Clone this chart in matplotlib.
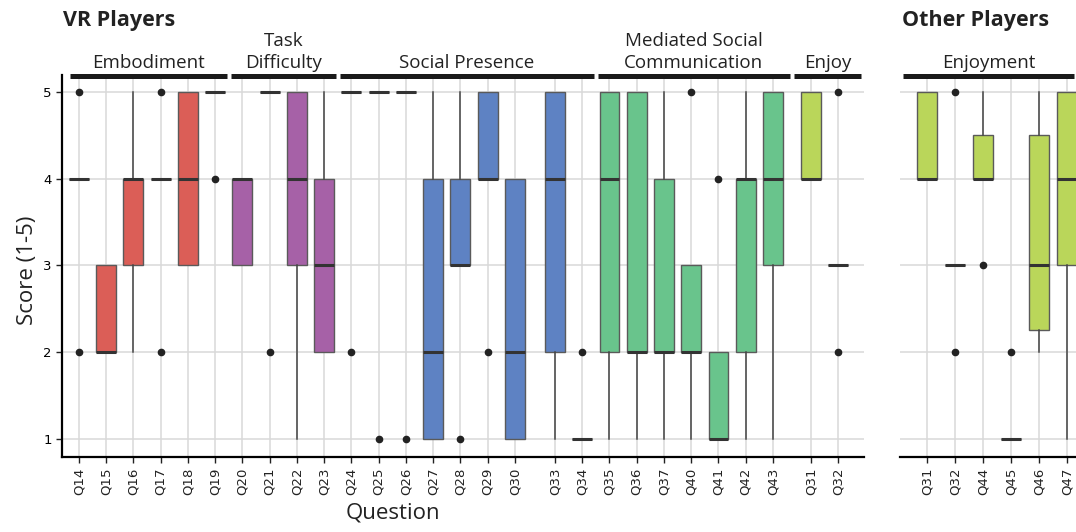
import matplotlib
matplotlib.use("Agg")
import matplotlib.pyplot as plt

# --- data: VR players ---
vr_questions = ["Q14", "Q15", "Q16", "Q17", "Q18", "Q19",
                "Q20", "Q21", "Q22", "Q23",
                "Q24", "Q25", "Q26", "Q27", "Q28", "Q29", "Q30", "Q33", "Q34",
                "Q35", "Q36", "Q37", "Q40", "Q41", "Q42", "Q43",
                "Q31", "Q32"]
vr_q1 = [4, 2, 3, 4, 3, 5, 3, 5, 3, 2, 5, 5, 5, 1, 3, 4, 1, 2, 1, 2, 2, 2, 2, 1, 2, 3, 4, 3]
vr_med = [4, 2, 4, 4, 4, 5, 4, 5, 4, 3, 5, 5, 5, 2, 3, 4, 2, 4, 1, 4, 2, 2, 2, 1, 4, 4, 4, 3]
vr_q3 = [4, 3, 4, 4, 5, 5, 4, 5, 5, 4, 5, 5, 5, 4, 4, 5, 4, 5, 1, 5, 5, 4, 3, 2, 4, 5, 5, 3]
vr_wlo = [4, 2, 2, 4, 3, 5, 3, 5, 1, 2, 5, 5, 5, 1, 3, 4, 1, 1, 1, 1, 1, 1, 1, 1, 1, 1, 4, 3]
vr_whi = [4, 3, 5, 4, 5, 5, 4, 5, 5, 5, 5, 5, 5, 5, 5, 5, 4, 5, 1, 5, 5, 5, 3, 2, 5, 5, 5, 3]
vr_fliers = [[5, 2], [], [], [5, 2], [], [4], [], [2], [], [],
             [2], [1], [1], [], [1], [2], [], [], [2],
             [], [], [], [5], [4], [], [],
             [], [5, 2]]
vr_groups = ["Embodiment", "Task\nDifficulty", "Social Presence",
             "Mediated Social\nCommunication", "Enjoy"]
vr_group_sizes = [6, 4, 9, 7, 2]

# --- data: other players ---
ot_questions = ["Q31", "Q32", "Q44", "Q45", "Q46", "Q47"]
ot_q1 = [4, 3, 4, 1, 2.25, 3]
ot_med = [4, 3, 4, 1, 3, 4]
ot_q3 = [5, 3, 4.5, 1, 4.5, 5]
ot_wlo = [4, 3, 4, 1, 2, 1]
ot_whi = [5, 3, 5, 1, 5, 5]
ot_fliers = [[], [5, 2], [3], [2], [], []]

group_colors = ["#DB5E57", "#A661A7", "#5E82C3", "#69C48C", "#BAD65A"]

font = "Open Sans"
grid_c = "#d9d9d9"

fig = plt.figure(figsize=(10.76, 5.32), dpi=100)
ax1 = fig.add_axes([62 / 1076, 1 - 457 / 532, 802 / 1076, 382.4 / 532])
ax2 = fig.add_axes([900 / 1076, 1 - 457 / 532, 176 / 1076, 382.4 / 532])

# x positions (extra space after Q30 and after the MSC group)
extra_gap = {"Q30": 0.47, "Q43": 0.39}
vr_pos = []
x = 0.0
for q in vr_questions:
    vr_pos.append(x)
    x += 1 + extra_gap.get(q, 0)
ot_pos = list(range(len(ot_questions)))


def make_stats(q1, med, q3, lo, hi, fl):
    return [dict(q1=a, med=b, q3=c, whislo=d, whishi=e, fliers=f)
            for a, b, c, d, e, f in zip(q1, med, q3, lo, hi, fl)]


def draw_boxes(ax, stats, pos, colors, width):
    bp = ax.bxp(stats, positions=pos, widths=width, patch_artist=True,
                showcaps=False, manage_ticks=False,
                boxprops=dict(edgecolor="#5a5a5a", linewidth=1.0),
                medianprops=dict(color="#333333", linewidth=2.2, solid_capstyle="butt"),
                whiskerprops=dict(color="#444444", linewidth=1.1),
                flierprops=dict(marker="o", markerfacecolor="#222222",
                                markeredgecolor="#222222", markersize=4.5))
    for patch, c in zip(bp["boxes"], colors):
        patch.set_facecolor(c)


vr_colors = []
for c, n in zip(group_colors, vr_group_sizes):
    vr_colors += [c] * n

draw_boxes(ax1, make_stats(vr_q1, vr_med, vr_q3, vr_wlo, vr_whi, vr_fliers),
           vr_pos, vr_colors, 0.73)
draw_boxes(ax2, make_stats(ot_q1, ot_med, ot_q3, ot_wlo, ot_whi, ot_fliers),
           ot_pos, [group_colors[4]] * len(ot_questions), 0.71)

for ax, pos, labels in [(ax1, vr_pos, vr_questions), (ax2, ot_pos, ot_questions)]:
    ax.set_ylim(0.79, 5.2)
    ax.set_yticks([1, 2, 3, 4, 5])
    ax.set_xticks(pos)
    ax.set_xticklabels(labels, rotation=90, fontsize=9.5, color="#222222")
    ax.grid(True, color=grid_c, linewidth=1.1)
    ax.set_axisbelow(True)
    for s in ["top", "right"]:
        ax.spines[s].set_visible(False)
    ax.spines["bottom"].set_linewidth(1.6)
    ax.spines["left"].set_linewidth(1.6)
    ax.tick_params(axis="both", length=4, width=1.0, color="#222222", labelsize=9.5)

ax1.set_xlim(-0.62, vr_pos[-1] + 0.95)
ax2.set_xlim(-0.96, 5.32)
ax2.spines["left"].set_visible(False)
ax2.tick_params(axis="y", left=False, labelleft=False)


def header(ax, x0, x1, label):
    tr = ax.get_xaxis_transform()
    ax.plot([x0, x1], [0.996, 0.996], color="#1a1a1a", lw=3.6,
            solid_capstyle="butt", transform=tr, clip_on=False)
    ax.text((x0 + x1) / 2, 1.018, label, transform=tr, ha="center", va="baseline",
            fontsize=13.5, family=font, color="#222222", linespacing=1.25)


# group headers for VR panel
start = 0
gap = 0.08
for i, (name, n) in enumerate(zip(vr_groups, vr_group_sizes)):
    first, last = vr_pos[start], vr_pos[start + n - 1]
    if i == 0:
        x0 = first - 0.33
    else:
        x0 = (vr_pos[start - 1] + first) / 2 + gap
    if i == len(vr_groups) - 1:
        x1 = last + 0.84
    else:
        x1 = (last + vr_pos[start + n]) / 2 - gap
    header(ax1, x0, x1, name)
    start += n

header(ax2, ot_pos[0] - 0.86, ot_pos[-1] + 0.25, "Enjoyment")

fig.text(63 / 1076, 1 - 26 / 532, "VR Players", fontsize=15.5, fontweight="bold",
         family=font, color="#222222", va="baseline", ha="left")
fig.text(902 / 1076, 1 - 26 / 532, "Other Players", fontsize=15.5, fontweight="bold",
         family=font, color="#222222", va="baseline", ha="left")
fig.text(28 / 1076, 1 - 270 / 532, "Score (1-5)", rotation=90, fontsize=16,
         family=font, color="#222222", va="center", ha="center")
fig.text(393 / 1076, 1 - 513 / 532, "Question", fontsize=16,
         family=font, color="#222222", va="center", ha="center")

fig.savefig("out.png", dpi=100)
